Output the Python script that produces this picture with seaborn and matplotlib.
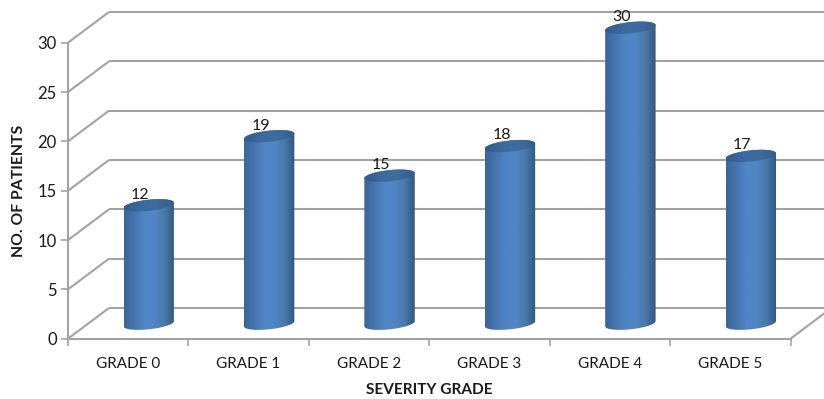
import numpy as np
import pandas as pd
import matplotlib
matplotlib.use("Agg")
import matplotlib.pyplot as plt
from matplotlib.colors import LinearSegmentedColormap
from matplotlib.patches import Polygon
from matplotlib.transforms import ScaledTranslation
import seaborn as sns

grades = ["GRADE 0", "GRADE 1", "GRADE 2", "GRADE 3", "GRADE 4", "GRADE 5"]
patients = [12, 19, 15, 18, 30, 17]
y_ticks = [0, 5, 10, 15, 20, 25, 30]

GRID = "#A3A3A3"
TEXT = "#1A1A1A"
FONT = "Lato"

sns.set_style("white")
plt.rcParams["font.family"] = [FONT, "DejaVu Sans"]

W, H, DPI = 824, 399, 100
AX_LEFT, AX_WIDTH, AX_BOTTOM, AX_HEIGHT = 68.0, 722.5, 338.7, 296.0
fig = plt.figure(figsize=(W / DPI, H / DPI), dpi=DPI)
ax = fig.add_axes([AX_LEFT / W, (H - AX_BOTTOM) / H, AX_WIDTH / W, AX_HEIGHT / H])

df = pd.DataFrame({"grade": grades, "patients": patients})
sns.barplot(data=df, x="grade", y="patients", color="#4F81BD", width=0.415,
            saturation=1, ax=ax, zorder=3)
ax.set_xlim(-0.5, 5.5)
ax.set_ylim(0, 30)

px_x, px_y = AX_WIDTH / 6, AX_HEIGHT / 30


def shift(dx, dy):
    """Axes data transform moved by a distance given in pixels."""
    return ax.transData + ScaledTranslation(dx / DPI, dy / DPI, fig.dpi_scale_trans)


# Depth of the 3-D box in pixels, and of the bars standing halfway inside it
DEPTH_X, DEPTH_Y = 41, 30.7
depth = shift(DEPTH_X, DEPTH_Y)
mid_depth = shift(20.5, 15)
flat = {"color": GRID, "lw": 1.5, "clip_on": False, "solid_capstyle": "butt"}

for tick in y_ticks:
    ax.plot([-0.5, 5.5], [tick, tick], transform=depth, zorder=1, **flat)
    ax.plot([-0.5, -0.5 + DEPTH_X / px_x], [tick, tick + DEPTH_Y / px_y], zorder=1, **flat)
ax.plot([5.5, 5.5 + DEPTH_X / px_x], [0, DEPTH_Y / px_y], zorder=1, **flat)

# Horizontal shading across each cylinder
body_cmap = LinearSegmentedColormap.from_list(
    "cyl", ["#3A659B", "#4674AE", "#5085C6", "#5186C6", "#4A78A8", "#2F5680"])
cap_cmap = LinearSegmentedColormap.from_list(
    "cap", ["#2F5A90", "#3D6A9E", "#3F6B9C", "#335C88"])
shade = np.linspace(0, 1, 256).reshape(1, -1)

half_w, cap_b, tilt = 25.2 / px_x, 5.6 / px_y, 2.6 / px_y


def rim(cx, cy, t):
    return np.column_stack([cx + half_w * np.cos(t),
                            cy + cap_b * np.sin(t) + tilt * np.cos(t)])


def shaded(cmap, x0, x1, y0, y1, outline, zorder):
    """Gradient image limited to a cylinder outline, free of the axes box."""
    im = ax.imshow(shade, cmap=cmap, aspect="auto", zorder=zorder,
                   extent=[x0, x1, y0, y1], transform=mid_depth)
    im.set_clip_box(fig.bbox)
    im.set_clip_path(Polygon(outline, transform=mid_depth))
    return im


for bar, value in zip(ax.patches, patients):
    cx = bar.get_x() + bar.get_width() / 2
    bar.set_visible(False)
    body = np.vstack([rim(cx, 0, np.linspace(-np.pi, 0, 60)),
                      rim(cx, value, np.linspace(0, np.pi, 60))])
    shaded(body_cmap, cx - half_w, cx + half_w, -2, value + 2, body, 3)
    shaded(cap_cmap, cx - half_w, cx + half_w, value - 2, value + 2,
           rim(cx, value, np.linspace(0, 2 * np.pi, 120)), 4)
    ax.text(cx, value, str(value), transform=shift(12, 18.7), ha="center",
            va="bottom", fontsize=11.5, color=TEXT, zorder=5, clip_on=False)

ax.set_xlim(-0.5, 5.5)
ax.set_ylim(0, 30)

ax.set_yticks(y_ticks)
ax.set_xticks(np.arange(-0.5, 6, 1))
ax.set_xticks(np.arange(len(grades)), labels=grades, minor=True)
ax.set_xticklabels([])
ax.tick_params(axis="both", which="major", length=5, width=1.2, color=GRID,
               left=True, bottom=True)
ax.tick_params(axis="x", which="minor", length=0, labelsize=11, labelcolor=TEXT, pad=13)
ax.tick_params(axis="y", labelsize=12, labelcolor=TEXT, pad=3)

for name, spine in ax.spines.items():
    spine.set_visible(name in ("left", "bottom"))
    spine.set_color(GRID)
    spine.set_linewidth(1.5)

ax.set_xlabel("")
ax.set_ylabel("")
fig.text(429 / W, 1 - 390 / H, "SEVERITY GRADE", ha="center", va="center",
         fontsize=11.1, fontweight="bold", color=TEXT)
fig.text(19.5 / W, 1 - 191 / H, "NO. OF PATIENTS", ha="center", va="center",
         rotation=90, fontsize=11.3, fontweight="bold", color=TEXT)

fig.savefig("out.png", dpi=DPI, facecolor="white")
